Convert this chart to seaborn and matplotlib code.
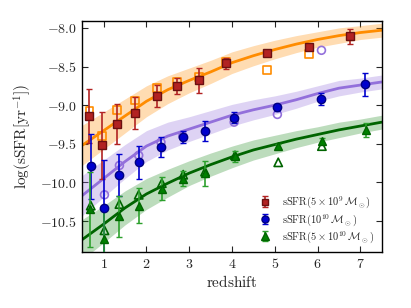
import matplotlib
matplotlib.use("Agg")
import matplotlib.pyplot as plt
import numpy as np
import pandas as pd
import seaborn as sns
from matplotlib.ticker import FuncFormatter, MultipleLocator

# model curves
curve_z = [0.5, 1.0, 1.5, 2.0, 2.5, 3.0, 3.5, 4.0, 4.5, 5.0, 5.5, 6.0, 6.5, 7.0, 7.5]
orange_curve = [-9.52, -9.33, -9.14, -8.95, -8.80, -8.68, -8.57, -8.45, -8.36,
                -8.28, -8.21, -8.15, -8.10, -8.06, -8.03]
purple_curve = [-10.17, -9.95, -9.73, -9.53, -9.40, -9.31, -9.22, -9.13, -9.06,
                -9.00, -8.93, -8.85, -8.78, -8.74, -8.70]
green_curve = [-10.74, -10.54, -10.33, -10.15, -10.01, -9.88, -9.77, -9.67, -9.58,
               -9.51, -9.44, -9.38, -9.32, -9.27, -9.22]
band_half = [0.26, 0.24, 0.22, 0.20, 0.18, 0.16, 0.15, 0.14, 0.13, 0.12, 0.11,
             0.10, 0.10, 0.09, 0.09]

# sSFR(5e9 Msun)
red_z = [0.67, 0.97, 1.31, 1.74, 2.24, 2.72, 3.22, 3.85, 4.82, 5.80, 6.76]
red_v = [-9.14, -9.52, -9.24, -9.10, -8.88, -8.75, -8.68, -8.46, -8.33, -8.25, -8.11]
red_err = [0.35, 0.43, 0.26, 0.21, 0.14, 0.10, 0.16, 0.07, 0.03, 0.04, 0.10]
orange_open_z = [0.67, 0.97, 1.31, 1.74, 2.24, 2.72, 3.22, 3.85, 4.82, 5.80]
orange_open_v = [-9.08, -9.40, -9.06, -8.94, -8.78, -8.70, -8.64, -8.44, -8.55, -8.34]

# sSFR(1e10 Msun)
blue_z = [0.70, 1.02, 1.37, 1.82, 2.34, 2.85, 3.37, 4.05, 5.06, 6.09, 7.11]
blue_v = [-9.79, -10.33, -9.90, -9.74, -9.54, -9.41, -9.34, -9.16, -9.03, -8.92, -8.73]
blue_err = [0.42, 0.62, 0.27, 0.21, 0.13, 0.08, 0.13, 0.07, 0.04, 0.08, 0.15]
purple_open_z = [1.02, 1.37, 1.82, 2.34, 2.85, 4.05, 5.06, 6.09]
purple_open_v = [-10.16, -9.78, -9.65, -9.48, -9.40, -9.22, -9.12, -8.29]

# sSFR(5e10 Msun)
green_z = [0.68, 1.02, 1.37, 1.82, 2.36, 2.86, 3.37, 4.07, 5.08, 6.10, 7.12]
green_v = [-10.35, -10.73, -10.44, -10.30, -10.08, -9.95, -9.88, -9.66, -9.53, -9.46, -9.32]
green_err = [0.48, 0.40, 0.27, 0.23, 0.15, 0.10, 0.16, 0.07, 0.03, 0.04, 0.09]
green_open_z = [0.70, 1.02, 1.37, 1.82, 2.36, 2.86, 3.37, 4.07, 5.08, 6.10]
green_open_v = [-10.30, -10.62, -10.28, -10.16, -10.01, -9.90, -9.86, -9.65, -9.74, -9.53]

labels = [
    r"$\mathrm{sSFR}(5\times10^{9}\,\mathcal{M}_\odot)$",
    r"$\mathrm{sSFR}(10^{10}\,\mathcal{M}_\odot)$",
    r"$\mathrm{sSFR}(5\times10^{10}\,\mathcal{M}_\odot)$",
]

sns.set_style("ticks")
plt.rcParams.update({
    "font.family": ["DejaVu Serif"],
    "mathtext.fontset": "cm",
    "xtick.direction": "in",
    "ytick.direction": "in",
    "xtick.top": True,
    "ytick.right": True,
    "xtick.major.size": 4,
    "ytick.major.size": 4,
    "axes.edgecolor": "black",
    "axes.linewidth": 1.0,
})

fig = plt.figure(figsize=(4.11, 3.08), dpi=100)
ax = fig.add_axes([0.200, 0.182, 0.729, 0.750])

curves = pd.DataFrame({"z": curve_z, "orange": orange_curve,
                       "purple": purple_curve, "green": green_curve})
half = np.array(band_half)
for col, line_c, band_c in [("orange", "darkorange", "darkorange"),
                            ("purple", "mediumpurple", "mediumpurple"),
                            ("green", "darkgreen", "forestgreen")]:
    y = curves[col].to_numpy()
    ax.fill_between(curves["z"], y - half, y + half, color=band_c,
                    alpha=0.3, lw=0, zorder=1)
    sns.lineplot(data=curves, x="z", y=col, color=line_c, lw=2,
                 ax=ax, zorder=2)

# open symbols
sns.scatterplot(x=orange_open_z, y=orange_open_v, marker="s", s=32,
                facecolor="none", edgecolor="darkorange", linewidth=1.2,
                ax=ax, zorder=3)
sns.scatterplot(x=purple_open_z, y=purple_open_v, marker="o", s=32,
                facecolor="none", edgecolor="mediumpurple", linewidth=1.2,
                ax=ax, zorder=3)
sns.scatterplot(x=green_open_z, y=green_open_v, marker="^", s=36,
                facecolor="none", edgecolor="darkgreen", linewidth=1.2,
                ax=ax, zorder=3)

# filled symbols with error bars
h1 = ax.errorbar(red_z, red_v, yerr=red_err, fmt="s", ms=5.5,
                 mfc="firebrick", mec="#6b1010", ecolor="firebrick",
                 elinewidth=1.2, capsize=2, zorder=4, label=labels[0])
h2 = ax.errorbar(blue_z, blue_v, yerr=blue_err, fmt="o", ms=6,
                 mfc="mediumblue", mec="navy", ecolor="mediumblue",
                 elinewidth=1.2, capsize=2, zorder=4, label=labels[1])
h3 = ax.errorbar(green_z, green_v, yerr=green_err, fmt="^", ms=6,
                 mfc="green", mec="darkgreen", ecolor="#2ca02c",
                 elinewidth=1.2, capsize=2, zorder=4, label=labels[2])

ax.set_xlim(0.5, 7.5)
ax.set_ylim(-10.9, -7.91)
ax.xaxis.set_major_locator(MultipleLocator(1))
ax.yaxis.set_major_locator(MultipleLocator(0.5))
ax.xaxis.set_major_formatter(FuncFormatter(lambda v, p: f"${v:.0f}$"))
ax.yaxis.set_major_formatter(FuncFormatter(lambda v, p: f"${v:.1f}$"))
ax.tick_params(labelsize=10, pad=4)

ax.set_xlabel(r"$\mathrm{redshift}$", fontsize=11, labelpad=2)
ax.set_ylabel(r"$\log(\mathrm{sSFR}[\mathrm{yr}^{-1}])$", fontsize=11, labelpad=4)

ax.legend(handles=[h1, h2, h3], loc="lower right", frameon=False,
          fontsize=7.5, handlelength=1.2, handletextpad=1.0,
          borderaxespad=0.3, labelspacing=0.12, markerscale=0.85)

fig.savefig("out.png", dpi=100)
